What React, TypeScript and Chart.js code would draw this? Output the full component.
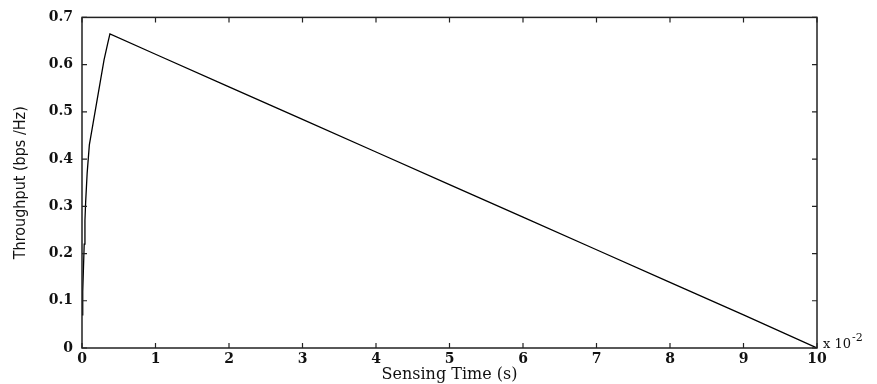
import React, { useEffect, useRef } from "react";
import { Chart, registerables } from "chart.js";

Chart.register(...registerables);

const sensingTime = [0, 0.01, 0.02, 0.03, 0.04, 0.05, 0.07, 0.1, 0.15, 0.2, 0.25, 0.3, 0.35, 0.38, 1, 2, 3, 4, 5, 6, 7, 8, 9, 10];
const throughput = [0.07, 0.12, 0.17, 0.22, 0.27, 0.31, 0.37, 0.43, 0.475, 0.52, 0.565, 0.61, 0.645, 0.665, 0.622, 0.553, 0.484, 0.415, 0.346, 0.277, 0.208, 0.139, 0.07, 0];
const xTicks = [0, 1, 2, 3, 4, 5, 6, 7, 8, 9, 10];
const yTicks = [0, 0.1, 0.2, 0.3, 0.4, 0.5, 0.6, 0.7];

const tickFont = { family: "'DejaVu Serif', serif", size: 14, weight: "bold" as const };

const boxPlugin = {
  id: "matlabBox",
  afterDraw(chart: any) {
    const { ctx, chartArea } = chart;
    const { left, right, top, bottom } = chartArea;
    const xs = chart.scales.x;
    const ys = chart.scales.y;
    ctx.save();
    ctx.strokeStyle = "#222";
    ctx.lineWidth = 1.5;
    ctx.strokeRect(left, top, right - left, bottom - top);
    ctx.lineWidth = 1.2;
    const tl = 5;
    ctx.beginPath();
    xTicks.forEach((v) => {
      const px = xs.getPixelForValue(v);
      ctx.moveTo(px, bottom);
      ctx.lineTo(px, bottom - tl);
      ctx.moveTo(px, top);
      ctx.lineTo(px, top + tl);
    });
    yTicks.forEach((v) => {
      const py = ys.getPixelForValue(v);
      ctx.moveTo(left, py);
      ctx.lineTo(left + tl, py);
      ctx.moveTo(right, py);
      ctx.lineTo(right - tl, py);
    });
    ctx.stroke();
    ctx.fillStyle = "#111";
    ctx.font = "13px 'DejaVu Serif', serif";
    ctx.textBaseline = "alphabetic";
    ctx.textAlign = "left";
    ctx.fillText("x 10", right + 6, bottom);
    const w = ctx.measureText("x 10").width;
    ctx.font = "11px 'DejaVu Serif', serif";
    ctx.fillText("-2", right + 7 + w, bottom - 7);
    ctx.restore();
  },
};

export default function App() {
  const ref = useRef<HTMLCanvasElement>(null);
  useEffect(() => {
    document.body.style.margin = "0";
    const data = sensingTime.map((x, i) => ({ x, y: throughput[i] }));
    const chart = new Chart(ref.current!, {
      type: "line",
      data: {
        datasets: [
          {
            data,
            borderColor: "#000",
            borderWidth: 1.3,
            pointRadius: 0,
            tension: 0,
            fill: false,
          },
        ],
      },
      options: {
        animation: false,
        responsive: false,
        maintainAspectRatio: false,
        layout: { padding: { left: 0, right: 60, top: 16, bottom: 0 } },
        plugins: { legend: { display: false }, tooltip: { enabled: false } },
        scales: {
          x: {
            type: "linear",
            min: 0,
            max: 10,
            grid: { display: false, drawTicks: false },
            border: { display: false },
            afterBuildTicks: (s: any) => {
              s.ticks = xTicks.map((v) => ({ value: v }));
            },
            afterFit: (s: any) => {
              s.height = 36;
            },
            ticks: { color: "#111", font: tickFont, padding: 3, maxRotation: 0, callback: (v: any) => String(v) },
            title: {
              display: true,
              text: "Sensing Time (s)",
              color: "#111",
              font: { family: "'DejaVu Serif', serif", size: 16 },
              padding: { top: 0, bottom: 0 },
            },
          },
          y: {
            type: "linear",
            min: 0,
            max: 0.7,
            grid: { display: false, drawTicks: false },
            border: { display: false },
            afterBuildTicks: (s: any) => {
              s.ticks = yTicks.map((v) => ({ value: v }));
            },
            afterFit: (s: any) => {
              s.width = 82;
            },
            ticks: { color: "#111", font: tickFont, padding: 9, callback: (v: any) => (v === 0 ? "0" : Number(v).toFixed(1)) },
            title: {
              display: true,
              text: "Throughput (bps /Hz)",
              color: "#111",
              font: { family: "'Liberation Sans Narrow', 'DejaVu Sans Condensed', sans-serif", size: 16 },
              padding: { top: 11, bottom: 0 },
            },
          },
        },
      },
      plugins: [boxPlugin],
    });
    return () => chart.destroy();
  }, []);
  return (
    <div style={{ position: "absolute", left: 0, top: 0, width: 877, height: 384, background: "#fff" }}>
      <canvas ref={ref} width={877} height={384} style={{ display: "block" }} />
    </div>
  );
}
